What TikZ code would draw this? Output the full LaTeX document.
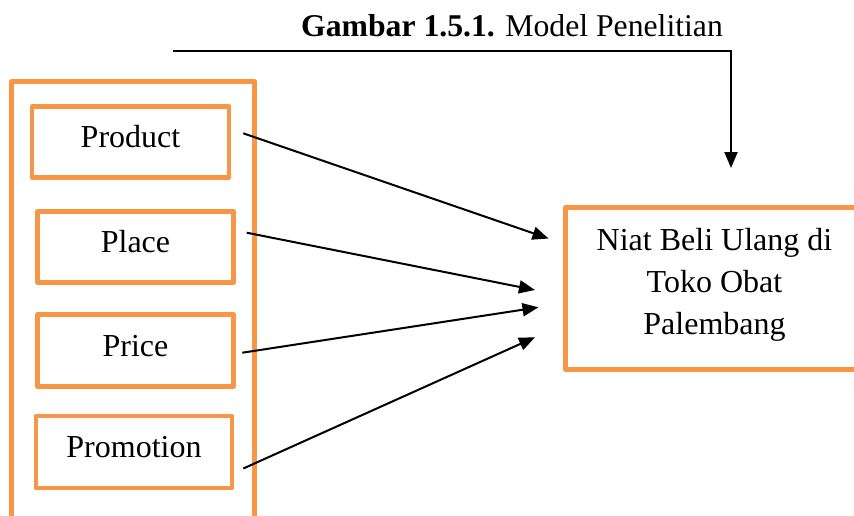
\documentclass[tikz,border=0pt]{standalone}
\usepackage{fontspec}
\setmainfont{Liberation Serif}
\usetikzlibrary{arrows.meta}
\definecolor{accentorange}{HTML}{F79646}
\tikzset{
  varbox/.style={draw=accentorange, line width=4.5pt, line join=round,
    minimum width=196pt, minimum height=71pt, inner sep=0pt,
    text height=22pt, text depth=11pt, font=\fontsize{32}{42}\selectfont},
  groupframe/.style={draw=accentorange, line width=5pt, line join=round},
  link/.style={draw=black, line width=2pt,
    -{Triangle[length=16pt,width=13pt]}},
}
\begin{document}
\begin{tikzpicture}[x=1pt, y=-1pt]
\useasboundingbox (0,0) rectangle (854,515);
\begin{scope}
  \clip (0,0) rectangle (854,515);
  % outer frame around the four marketing-mix variables (runs off the bottom)
  \draw[groupframe] (11.5,81.5) rectangle (254.5,540);
  % dependent variable box (runs off the right)
  \draw[groupframe] (565.5,207.5) rectangle (866,369);
\end{scope}

% title
\node[anchor=base, font=\fontsize{31.7}{38}\selectfont, inner sep=0pt]
  (title) at (512,36.7) {\textbf{Gambar 1.5.1.} Model Penelitian};

% variable boxes
\node[varbox, minimum width=197pt] (product) at (130.5,142) {Product};
\node[varbox] (place) at (135.5,247) {Place};
\node[varbox, minimum height=72pt] (price) at (135.5,350.5) {Price};
\node[varbox, minimum height=72pt] (promotion) at (134,452) {Promotion};

% dependent variable text (base anchor sits on the last line)
\node[align=center, font=\fontsize{32}{42}\selectfont, inner sep=0pt,
  anchor=base] (niat) at (714.5,334) {Niat Beli Ulang di\\Toko Obat\\Palembang};

% arrow end points
\coordinate (s1) at (243.3,133.3);
\coordinate (s2) at (246.7,232.7);
\coordinate (s3) at (242.3,352.7);
\coordinate (s4) at (243.3,468.5);
\coordinate (e1) at (548.5,238.5);
\coordinate (e2) at (535,290);
\coordinate (e3) at (538.5,307.3);
\coordinate (e4) at (535,337.3);
\coordinate (fstart) at (173,50.5);
\coordinate (ftip) at (731,168);

\draw[link] (s1) -- (e1);
\draw[link] (s2) -- (e2);
\draw[link] (s3) -- (e3);
\draw[link] (s4) -- (e4);
\draw[link] (fstart) -| (ftip);
\end{tikzpicture}
\end{document}
